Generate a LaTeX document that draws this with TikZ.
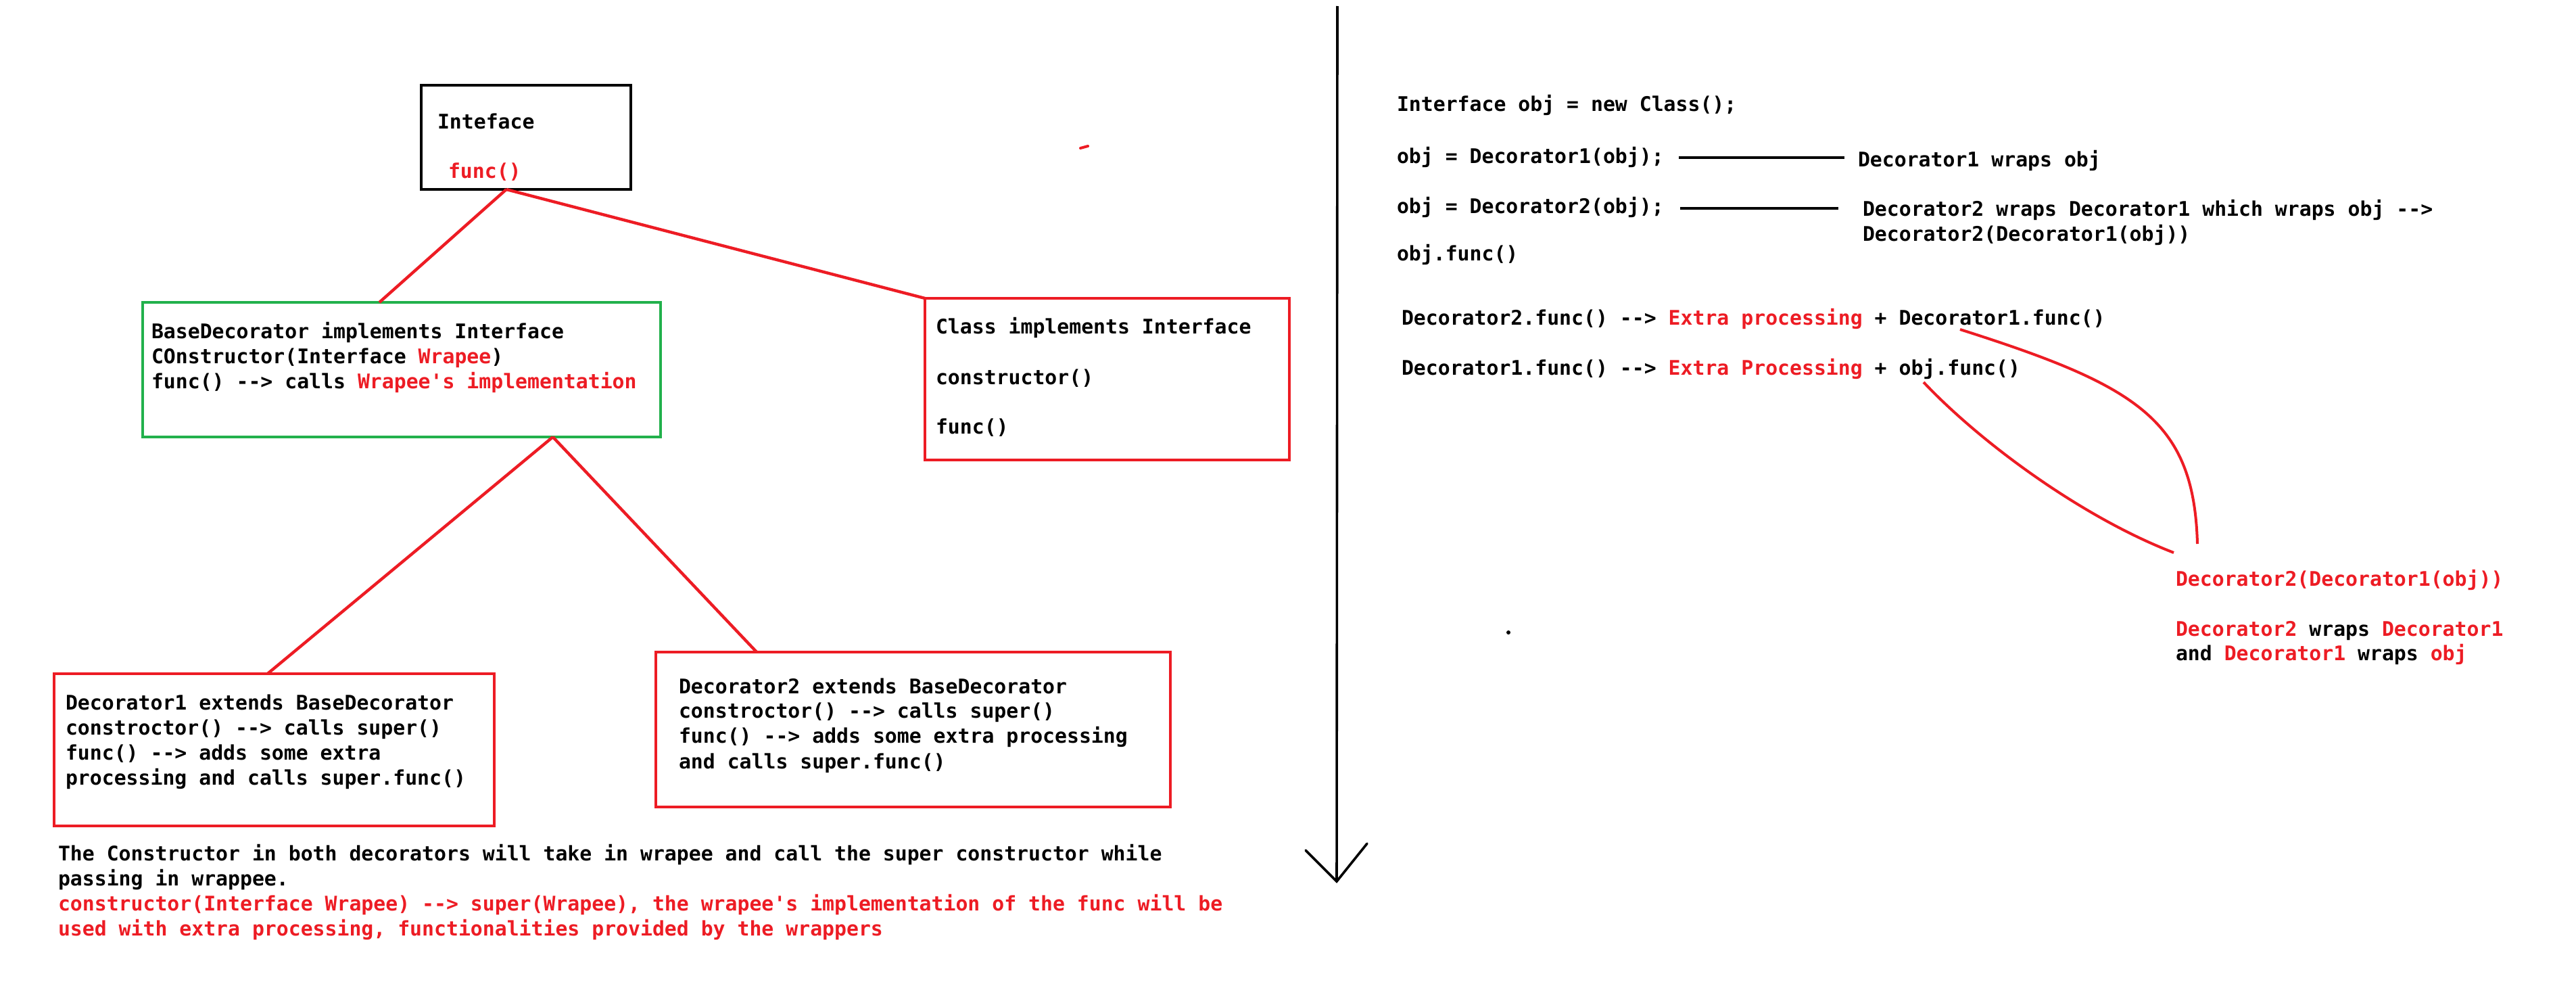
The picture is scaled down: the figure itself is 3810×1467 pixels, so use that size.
\documentclass[tikz,border=0pt]{standalone}
\usepackage{fontspec}
\setmonofont{DejaVu Sans Mono}
\usetikzlibrary{fit,calc}
\definecolor{pred}{HTML}{ED1C24}
\definecolor{pgreen}{HTML}{22B14C}
\newcommand{\redtxt}[1]{\textcolor{pred}{#1}}
\begin{document}
\begin{tikzpicture}[x=0.5pt,y=-0.5pt,
  txt/.style={anchor=base west, inner sep=0pt, outer sep=0pt, text=black,
    font=\ttfamily\bfseries\fontsize{14.9}{18.5}\selectfont},
  rtxt/.style={txt, text=pred},
  box/.style={draw, line width=2.3pt, inner sep=0pt, outer sep=0pt},
  conn/.style={draw=pred, line width=2.2pt},
  curvel/.style={draw=pred, line width=2pt},
  blk/.style={draw=black, line width=2.3pt},
  axis/.style={draw=black, line width=1.8pt}]
\useasboundingbox (0,0) rectangle (3810,1467);
\fill[white] (0,0) rectangle (3810,1467);

% ---- boxes ----
\node[box, draw=black, fit={(623,126) (933,280)}] (iface) {};
\node[box, draw=pgreen, fit={(211,447) (977,646)}] (base) {};
\node[box, draw=pred, fit={(1368,441) (1907,680)}] (cls) {};
\node[box, draw=pred, fit={(80,996) (731,1221)}] (dec1) {};
\node[box, draw=pred, fit={(970,964) (1731,1193)}] (dec2) {};

% ---- connectors ----
\coordinate (ifB) at ($(iface.south west)!0.406!(iface.south east)$);
\coordinate (baseT) at ($(base.north west)!0.457!(base.north east)$);
\coordinate (baseB) at ($(base.south west)!0.792!(base.south east)$);
\coordinate (dec1T) at ($(dec1.north west)!0.485!(dec1.north east)$);
\coordinate (dec2T) at ($(dec2.north west)!0.196!(dec2.north east)$);
\draw[conn] (ifB) -- (baseT);
\draw[conn] (ifB) -- (cls.north west);
\draw[conn] (baseB) -- (dec1T);
\draw[conn] (baseB) -- (dec2T);

% ---- box texts ----
\node[txt] (ifT1) at (647,190) {Inteface};
\node[rtxt] (ifT2) at (663,263) {func()};

\node[txt] (bT1) at (224,500) {BaseDecorator implements Interface};
\node[txt] (bT2) at (224,537) {COnstructor(Interface \redtxt{Wrapee})};
\node[txt] (bT3) at (224,574) {func() --> calls \redtxt{Wrapee's implementation}};

\node[txt] (cT1) at (1384,493) {Class implements Interface};
\node[txt] (cT2) at (1384,568) {constructor()};
\node[txt] (cT3) at (1384,641) {func()};

\node[txt] (d1T1) at (97,1049) {Decorator1 extends BaseDecorator};
\node[txt] (d1T2) at (97,1086) {constroctor() --> calls super()};
\node[txt] (d1T3) at (97,1123) {func() --> adds some extra};
\node[txt] (d1T4) at (97,1160) {processing and calls super.func()};

\node[txt] (d2T1) at (1004,1025) {Decorator2 extends BaseDecorator};
\node[txt] (d2T2) at (1004,1061) {constroctor() --> calls super()};
\node[txt] (d2T3) at (1004,1098) {func() --> adds some extra processing};
\node[txt] (d2T4) at (1004,1136) {and calls super.func()};

% ---- bottom note ----
\node[txt] (n1) at (86,1272) {The Constructor in both decorators will take in wrapee and call the super constructor while};
\node[txt] (n2) at (86,1309) {passing in wrappee.};
\node[rtxt] (n3) at (86,1346) {constructor(Interface Wrapee) --> super(Wrapee), the wrapee's implementation of the func will be};
\node[rtxt] (n4) at (86,1383) {used with extra processing, functionalities provided by the wrappers};

% ---- divider arrow ----
\coordinate (vTop) at (1978,9);
\coordinate (vTip) at (1977,1303);
\coordinate (armL) at (1931,1257);
\coordinate (armR) at (2022,1247);
\draw[axis] (vTop) -- (vTip);
\draw[axis, line cap=round] (armL) -- (vTip) -- (armR);

% ---- right side ----
\node[txt] (r1) at (2066,164) {Interface obj = new Class();};
\node[txt] (r2) at (2066,241) {obj = Decorator1(obj);};
\node[txt] (r2b) at (2748,246) {Decorator1 wraps obj};
\node[txt] (r3) at (2066,315) {obj = Decorator2(obj);};
\node[txt] (r3b) at (2755,319) {Decorator2 wraps Decorator1 which wraps obj -->};
\node[txt] (r3c) at (2755,356) {Decorator2(Decorator1(obj))};
\node[txt] (r4) at (2066,385) {obj.func()};
\node[txt] (r5) at (2073,480) {Decorator2.func() --> \redtxt{Extra processing} + Decorator1.func()};
\node[txt] (r6) at (2073,554) {Decorator1.func() --> \redtxt{Extra Processing} + obj.func()};

\coordinate (l1a) at (2483,233); \coordinate (l1b) at (2728,233);
\coordinate (l2a) at (2485,308); \coordinate (l2b) at (2719,308);
\draw[blk] (l1a) -- (l1b);
\draw[blk] (l2a) -- (l2b);

\node[rtxt] (w1) at (3218,866) {Decorator2(Decorator1(obj))};
\node[txt] (w2) at (3218,940) {\redtxt{Decorator2} wraps \redtxt{Decorator1}};
\node[txt] (w3) at (3218,976) {and \redtxt{Decorator1} wraps \redtxt{obj}};

\coordinate (cvAs) at (2899,487); \coordinate (cvAe) at (3250,804);
\coordinate (cvBs) at (2845,565); \coordinate (cvBe) at (3215,817);
\draw[curvel] (cvAs) .. controls (3160,570) and (3245,620) .. (cvAe);
\draw[curvel] (cvBs) .. controls (2930,655) and (3080,765) .. (cvBe);

% ---- stray marks ----
\coordinate (m1a) at (1598,219); \coordinate (m1b) at (1609,216);
\draw[draw=pred, line width=2pt, line cap=round] (m1a) -- (m1b);
\coordinate (m2) at (2231,935);
\fill[black] (m2) circle (3);
\end{tikzpicture}
\end{document}
